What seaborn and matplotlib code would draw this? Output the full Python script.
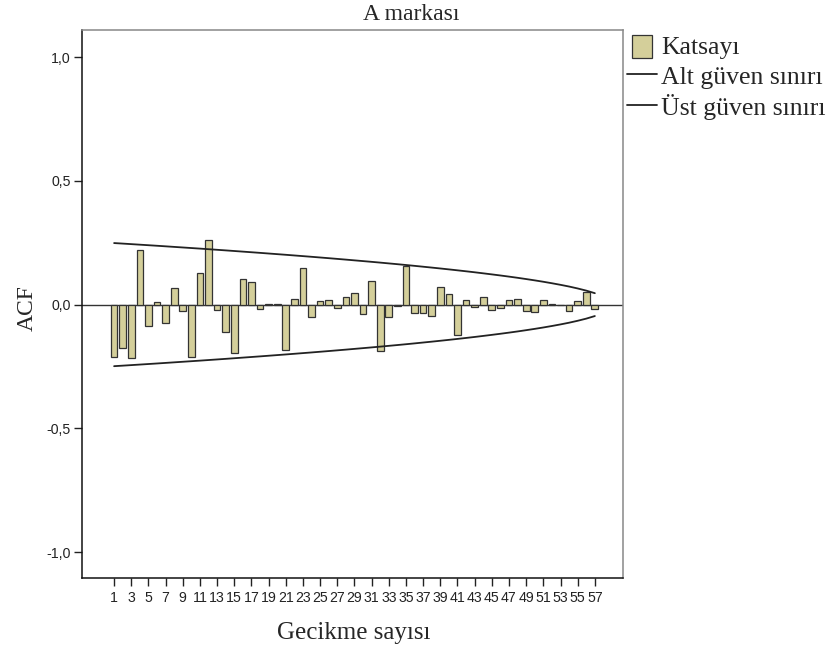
import matplotlib
matplotlib.use("Agg")
import matplotlib.pyplot as plt
import seaborn as sns
import pandas as pd
from matplotlib.patches import Patch, Rectangle
from matplotlib.lines import Line2D
from matplotlib.legend_handler import HandlerPatch

lags = list(range(1, 58))
acf = [-0.212, -0.176, -0.216, 0.220, -0.085, 0.011, -0.075, 0.069, -0.024, -0.210,
       0.129, 0.261, -0.021, -0.110, -0.196, 0.102, 0.092, -0.019, 0.003, 0.003,
       -0.183, 0.023, 0.150, -0.051, 0.013, 0.017, -0.015, 0.030, 0.047, -0.036,
       0.097, -0.188, -0.050, -0.005, 0.158, -0.035, -0.032, -0.044, 0.073, 0.041,
       -0.121, 0.017, -0.009, 0.031, -0.020, -0.015, 0.020, 0.024, -0.024, -0.031,
       0.017, 0.003, -0.003, -0.027, 0.013, 0.052, -0.018]
upper = [0.2488, 0.2467, 0.2445, 0.2423, 0.2401, 0.2379, 0.2356, 0.2333, 0.2310, 0.2287,
         0.2264, 0.2240, 0.2216, 0.2192, 0.2167, 0.2142, 0.2117, 0.2092, 0.2066, 0.2040,
         0.2014, 0.1987, 0.1960, 0.1933, 0.1905, 0.1877, 0.1848, 0.1819, 0.1789, 0.1759,
         0.1729, 0.1698, 0.1666, 0.1634, 0.1601, 0.1567, 0.1532, 0.1497, 0.1461, 0.1424,
         0.1386, 0.1347, 0.1307, 0.1265, 0.1222, 0.1178, 0.1132, 0.1084, 0.1033, 0.0980,
         0.0924, 0.0864, 0.0800, 0.0731, 0.0653, 0.0566, 0.0462]
lower = [-v for v in upper]
tick_lags = list(range(1, 58, 2))
ytick_vals = [-1.0, -0.5, 0.0, 0.5, 1.0]
ytick_labels = ["-1,0", "-0,5", "0,0", "0,5", "1,0"]

df = pd.DataFrame({"lag": lags, "acf": acf, "upper": upper, "lower": lower})

sns.set_style("white")
plt.rcParams["font.family"] = ["Liberation Sans", "DejaVu Sans"]

fig = plt.figure(figsize=(8.3, 6.53), dpi=100)
ax = fig.add_axes([82 / 830, 75 / 653, (623 - 82) / 830, (578 - 30) / 653])

bar_color = "#D4CF9A"
sns.barplot(data=df, x="lag", y="acf", native_scale=True, color=bar_color,
            edgecolor="#333333", linewidth=0.9, width=0.78, saturation=1, ax=ax)
sns.lineplot(data=df, x="lag", y="lower", color="#222222", linewidth=1.3, ax=ax)
sns.lineplot(data=df, x="lag", y="upper", color="#222222", linewidth=1.3, ax=ax)
ax.axhline(0, color="#333333", linewidth=1.0, zorder=0.5)

ax.set_xlim(-2.74, 60.28)
ax.set_ylim(-1.105, 1.11)
ax.set_xticks(tick_lags)
ax.set_xticklabels([str(t) for t in tick_lags], fontsize=10.2, color="#222222")
ax.set_yticks(ytick_vals)
ax.set_yticklabels(ytick_labels, fontsize=10.2, color="#222222")
ax.tick_params(axis="x", direction="out", length=6, width=1, color="#222222", pad=3)
ax.tick_params(axis="y", direction="out", length=6, width=1, color="#222222", pad=2)
ax.tick_params(bottom=True, left=True)

for side in ["left", "bottom"]:
    ax.spines[side].set_color("#111111")
    ax.spines[side].set_linewidth(1.1)
for side in ["top", "right"]:
    ax.spines[side].set_color("#888888")
    ax.spines[side].set_linewidth(1.1)

ax.set_xlabel("Gecikme sayısı", family=["Liberation Serif"], fontsize=18)
ax.xaxis.set_label_coords((354 - 82) / 541, (578 - 622) / 548)
ax.set_ylabel("ACF", family=["Liberation Serif"], fontsize=17)
ax.yaxis.set_label_coords((38 - 82) / 541, (578 - 308) / 548)
fig.text(411 / 830, 1 - 14 / 653, "A markası", family=["Liberation Serif"],
         fontsize=17, ha="center", va="center")


def square_patch(legend, orig_handle, xdescent, ydescent, width, height, fontsize):
    return Rectangle((-xdescent + width * 0.17, -ydescent - height * 0.08),
                     width * 0.66, height * 1.05)


handles = [Patch(facecolor=bar_color, edgecolor="#333333", linewidth=0.9),
           Line2D([0], [0], color="#222222", linewidth=1.3),
           Line2D([0], [0], color="#222222", linewidth=1.3)]
labels = ["Katsayı", "Alt güven sınırı", "Üst güven sınırı"]
fig.legend(handles, labels, loc="upper left", bbox_to_anchor=(624 / 830, 1 - 32 / 653),
           frameon=False, prop={"family": "Liberation Serif", "size": 18.5},
           handlelength=1.2, handleheight=0.9, handletextpad=0.15, labelspacing=0.2,
           borderaxespad=0, borderpad=0.1,
           handler_map={Patch: HandlerPatch(patch_func=square_patch)})

fig.savefig("out.png", dpi=100)
